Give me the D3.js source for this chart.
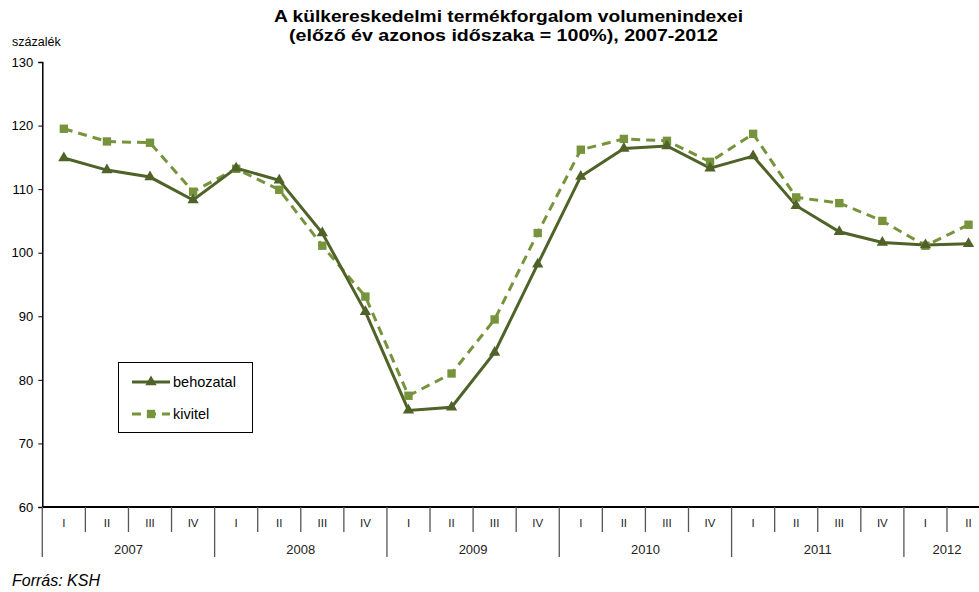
<!DOCTYPE html>
<html><head><meta charset="utf-8">
<script src="https://cdn.jsdelivr.net/npm/d3@7"></script>
<style>body{margin:0;background:#fff}svg{display:block;font-family:"Liberation Sans",Arial,sans-serif}</style>
</head><body><div id="chart"></div>
<script>
const years = ["2007","2008","2009","2010","2011","2012"];
const quarters = ["I","II","III","IV","I","II","III","IV","I","II","III","IV","I","II","III","IV","I","II","III","IV","I","II"];
const yearOf = ["2007","2007","2007","2007","2008","2008","2008","2008","2009","2009","2009","2009","2010","2010","2010","2010","2011","2011","2011","2011","2012","2012"];
const behozatal = [114.9,113.0,111.9,108.3,113.3,111.4,103.1,90.7,75.2,75.7,84.3,98.2,112.0,116.4,116.8,113.3,115.2,107.4,103.3,101.6,101.2,101.4];
const kivitel = [119.5,117.5,117.3,109.6,113.2,109.9,101.1,93.1,77.5,81.0,89.5,103.1,116.2,117.9,117.6,114.3,118.7,108.7,107.8,105.0,101.1,104.4];
const yTicks = [60,70,80,90,100,110,120,130];
const title1 = "A külkereskedelmi termékforgalom volumenindexei";
const title2 = "(előző év azonos időszaka = 100%), 2007-2012";

const W = 979, H = 592;
const svg = d3.select("#chart").append("svg").attr("width", W).attr("height", H);
const idx = d3.range(quarters.length);
const x = d3.scaleBand().domain(idx).range([42.3, 42.3 + 22 * 43.08]).paddingInner(0).paddingOuter(0);
const y = d3.scaleLinear().domain([60, 130]).range([507, 62]);
const cx = i => x(i) + x.bandwidth() / 2;

// title
svg.append("text").attr("x", 508.5).attr("y", 21.5).attr("text-anchor", "middle")
  .attr("font-size", 16.5).attr("font-weight", "bold").attr("fill", "#000")
  .attr("textLength", 469).attr("lengthAdjust", "spacingAndGlyphs").text(title1);
svg.append("text").attr("x", 503.5).attr("y", 41).attr("text-anchor", "middle")
  .attr("font-size", 16.5).attr("font-weight", "bold").attr("fill", "#000")
  .attr("textLength", 429).attr("lengthAdjust", "spacingAndGlyphs").text(title2);
svg.append("text").attr("x", 12).attr("y", 46).attr("font-size", 12.5).attr("fill", "#000").text("százalék");

// y axis
const yAxis = d3.axisLeft(y).tickValues(yTicks).tickSize(4).tickPadding(5);
const ya = svg.append("g").attr("transform", "translate(42.3,0)").call(yAxis);
ya.select(".domain").attr("stroke", "#000").attr("stroke-width", 1.5);
ya.selectAll(".tick line").attr("stroke", "#000");
ya.selectAll(".tick text").attr("font-size", 13).attr("fill", "#000").attr("font-family", '"Liberation Sans",Arial,sans-serif');

// x axis baseline
svg.append("line").attr("x1", 42.3).attr("x2", W).attr("y1", y(60)).attr("y2", y(60))
  .attr("stroke", "#000").attr("stroke-width", 2);

// x separators
const gx = svg.append("g");
idx.forEach(i => {
  const isYear = quarters[i] === "I";
  gx.append("line").attr("x1", x(i)).attr("x2", x(i)).attr("y1", y(60)).attr("y2", isYear ? 557 : 532)
    .attr("stroke", "#555").attr("stroke-width", 1.3);
  gx.append("text").attr("x", cx(i)).attr("y", 527).attr("text-anchor", "middle")
    .attr("font-size", 11.5).attr("fill", "#222").text(quarters[i]);
});
gx.append("line").attr("x1", x(21) + x.bandwidth()).attr("x2", x(21) + x.bandwidth()).attr("y1", y(60)).attr("y2", 557)
  .attr("stroke", "#555").attr("stroke-width", 1.3);
years.forEach(yr => {
  const is = idx.filter(i => yearOf[i] === yr);
  const x0 = x(is[0]), x1 = x(is[is.length - 1]) + x.bandwidth();
  gx.append("text").attr("x", (x0 + x1) / 2).attr("y", 554).attr("text-anchor", "middle")
    .attr("font-size", 13).attr("fill", "#222").text(yr);
});

// lines
const cDark = "#4F6228", cLight = "#77933C";
const line = d3.line().x((d, i) => cx(i)).y(d => y(d));
svg.append("path").datum(kivitel).attr("d", line).attr("fill", "none")
  .attr("stroke", cLight).attr("stroke-width", 3).attr("stroke-dasharray", "9,6");
svg.append("path").datum(behozatal).attr("d", line).attr("fill", "none")
  .attr("stroke", cDark).attr("stroke-width", 3);

const tri = d3.symbol().type(d3.symbolTriangle).size(55);
const sq = d3.symbol().type(d3.symbolSquare).size(70);
svg.append("g").selectAll("path").data(kivitel).join("path")
  .attr("d", sq).attr("transform", (d, i) => `translate(${cx(i)},${y(d)})`).attr("fill", cLight);
svg.append("g").selectAll("path").data(behozatal).join("path")
  .attr("d", tri).attr("transform", (d, i) => `translate(${cx(i)},${y(d)})`).attr("fill", cDark);

// legend
const lg = svg.append("g");
lg.append("rect").attr("x", 118.5).attr("y", 362.5).attr("width", 134).attr("height", 70)
  .attr("fill", "#fff").attr("stroke", "#000").attr("stroke-width", 1);
lg.append("line").attr("x1", 132).attr("x2", 170).attr("y1", 382).attr("y2", 382).attr("stroke", cDark).attr("stroke-width", 3);
lg.append("path").attr("d", tri).attr("transform", "translate(151,382)").attr("fill", cDark);
lg.append("text").attr("x", 173).attr("y", 387).attr("font-size", 14.5).attr("fill", "#000").text("behozatal");
lg.append("line").attr("x1", 132).attr("x2", 170).attr("y1", 414).attr("y2", 414).attr("stroke", cLight).attr("stroke-width", 3).attr("stroke-dasharray", "9,6");
lg.append("path").attr("d", sq).attr("transform", "translate(151,414)").attr("fill", cLight);
lg.append("text").attr("x", 173).attr("y", 419).attr("font-size", 14.5).attr("fill", "#000").text("kivitel");

svg.append("text").attr("x", 12).attr("y", 586).attr("font-size", 16).attr("font-style", "italic").attr("fill", "#000").text("Forrás: KSH");
</script></body></html>
